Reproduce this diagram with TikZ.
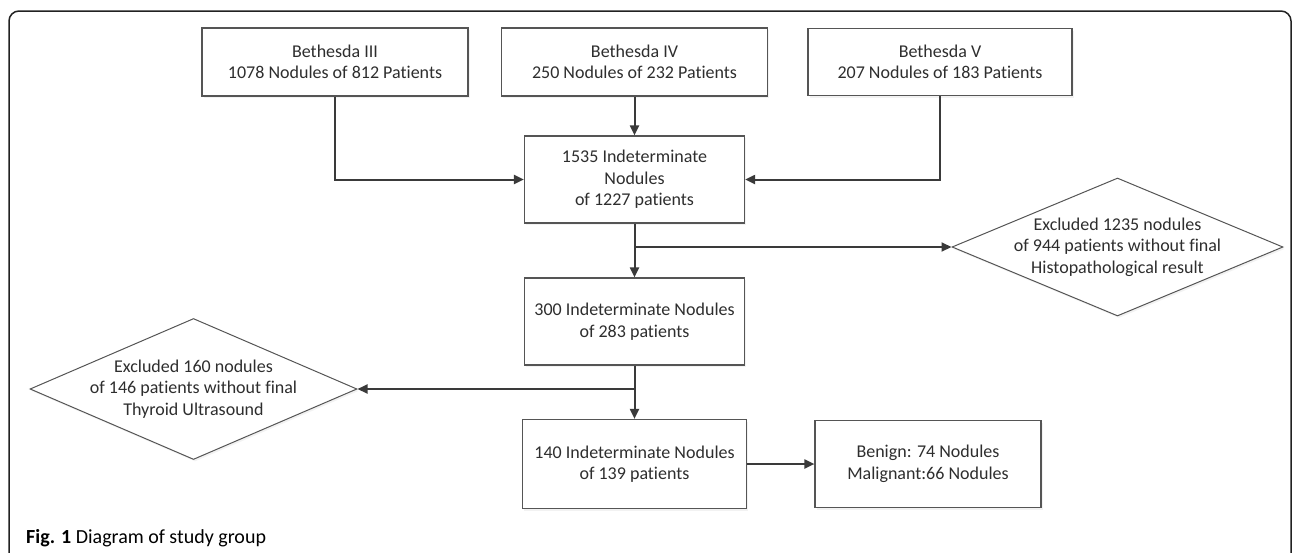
\documentclass[tikz,border=0pt]{standalone}
\usepackage{fontspec}
\setmainfont{Carlito}[Ligatures=NoCommon]
\usetikzlibrary{arrows.meta,shapes.geometric,shadows}
\definecolor{txtc}{HTML}{2E2E2E}
\definecolor{boxc}{HTML}{555555}
\definecolor{arrc}{HTML}{3A3A3A}
\definecolor{framec}{HTML}{222222}
\begin{document}
\begin{tikzpicture}[x=1pt,y=-1pt,
  boxfont/.style={font=\fontsize{18}{21.5}\selectfont, text=txtc},
  flowbox/.style={boxfont, draw=boxc, line width=1.2pt, fill=white, rectangle, align=center,
    inner sep=0pt, drop shadow={shadow xshift=1.5pt, shadow yshift=-2pt, fill=black!10}},
  dia/.style={draw=boxc, line width=1pt, fill=white, diamond, inner sep=0pt,
    drop shadow={shadow xshift=1.5pt, shadow yshift=-2pt, fill=black!10}},
  diatext/.style={boxfont, align=center, inner sep=0pt},
  conn/.style={draw=arrc, line width=2pt, -{Triangle[length=10pt,width=9pt]}}
]
\useasboundingbox (0,0) rectangle (1292,552);
% frame
\draw[framec, line width=1.5pt, rounded corners=10pt] (9,560) -- (9,11) -- (1291,11) -- (1291,560);

% top boxes
\node[flowbox, minimum width=266pt, minimum height=68pt] (b3) at (335,62) {Bethesda III\\1078 Nodules of 812 Patients};
\node[flowbox, minimum width=266pt, minimum height=68pt] (b4) at (634.5,62) {Bethesda IV\\250 Nodules of 232 Patients};
\node[flowbox, minimum width=264pt, minimum height=67pt] (b5) at (940,62) {Bethesda V\\207 Nodules of 183 Patients};

% central column
\node[flowbox, minimum width=220pt, minimum height=87pt] (n1535) at (634.5,179.5) {1535 Indeterminate\\Nodules\\of 1227 patients};
\node[flowbox, minimum width=220pt, minimum height=87pt] (n300) at (634.5,321.5) {300 Indeterminate Nodules\\of 283 patients};
\node[flowbox, minimum width=224pt, minimum height=89pt] (n140) at (634.5,464) {140 Indeterminate Nodules\\of 139 patients};
\node[flowbox, minimum width=226pt, minimum height=87pt] (ben) at (928,464) {Benign: 74 Nodules\\Malignant:66 Nodules};

% diamonds
\node[dia, minimum width=331pt, minimum height=138pt] (ex1) at (1117.5,247) {};
\node[diatext] (ex1t) at (ex1.center) {Excluded 1235 nodules\\of 944 patients without final\\Histopathological result};
\node[dia, minimum width=327pt, minimum height=141pt] (ex2) at (193.5,389) {};
\node[diatext] (ex2t) at (ex2.center) {Excluded 160 nodules\\of 146 patients without final\\Thyroid Ultrasound};

% connectors
\draw[conn] (b4.south) -- (n1535.north);
\draw[conn] (b3.south) |- (n1535.west);
\draw[conn] (b5.south) |- (n1535.east);
\draw[conn] (n1535.south) -- (n300.north);
\draw[conn] (n1535.south |- ex1.west) -- (ex1.west);
\draw[conn] (n300.south) -- (n140.north);
\draw[conn] (n300.south |- ex2.east) -- (ex2.east);
\draw[conn] (n140.east) -- (ben.west);

% caption
\node[anchor=west, inner sep=0pt, text=black, font=\fontsize{20}{24}\selectfont] (cap) at (26,538) {\textbf{Fig. 1} Diagram of study group};
\end{tikzpicture}
\end{document}
